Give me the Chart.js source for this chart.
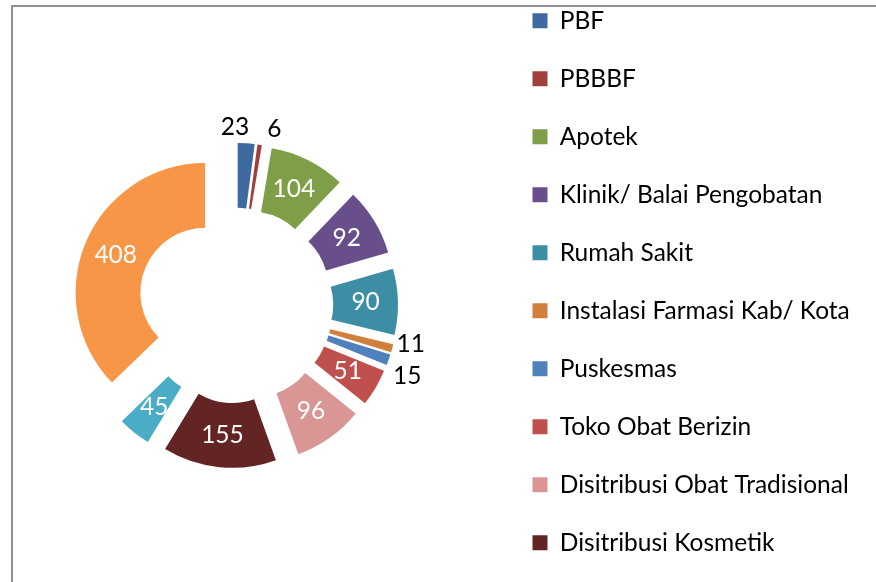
<!DOCTYPE html>
<html>
<head>
<meta charset="utf-8">
<script src="https://cdn.jsdelivr.net/npm/chart.js@4.4.1/dist/chart.umd.min.js"></script>
<style>
  html, body { margin: 0; padding: 0; width: 876px; height: 582px; overflow: hidden; background: #ffffff; }
  #frame { position: absolute; left: 11px; top: 5px; width: 900px; height: 700px;
           border-left: 2px solid #8f8f8f; border-top: 2px solid #8f8f8f; }
  #wrap { position: absolute; left: -28px; top: -25px; width: 904px; height: 661px; }
</style>
</head>
<body>
<div id="frame"></div>
<div id="wrap"><canvas id="c"></canvas></div>
<script>
// ---- data ----
const categories = [
  'PBF',
  'PBBBF',
  'Apotek',
  'Klinik/ Balai Pengobatan',
  'Rumah Sakit',
  'Instalasi Farmasi Kab/ Kota',
  'Puskesmas',
  'Toko Obat Berizin',
  'Disitribusi Obat Tradisional',
  'Disitribusi Kosmetik',
  'Disitribusi Suplemen Kesehatan',
  'Disitribusi Pangan'
];
const values = [23, 6, 104, 92, 90, 11, 15, 51, 96, 155, 45, 408];
const sliceColors = [
  '#3F6A9F', '#A0403D', '#7F9E48', '#684F8B', '#3D8DA5', '#D07F3C',
  '#4F81BD', '#C0504D', '#D99694', '#632523', '#4BACC6', '#F79646'
];

// ---- style ----
const FONT_FAMILY = 'Lato, "Open Sans", sans-serif';
const FONT_SIZE = 24.5;

// Make Chart.js' arc offset a pure translation (no radius growth / angle trimming),
// like an exploded doughnut in a spreadsheet chart.
const uniformExplode = {
  id: 'uniformExplode',
  beforeDatasetDraw(chart, args) {
    args.meta.data.forEach(arc => {
      arc.$circ = arc.circumference;
      if (arc.circumference > 0 && arc.circumference < Math.PI * 2) {
        arc.circumference = Math.PI / 2;
      }
    });
  },
  afterDatasetDraw(chart, args) {
    args.meta.data.forEach(arc => {
      if (arc.$circ !== undefined) arc.circumference = arc.$circ;
    });
  }
};

const valueLabels = {
  id: 'valueLabels',
  afterDatasetsDraw(chart) {
    const meta = chart.getDatasetMeta(0);
    const ds = chart.data.datasets[0];
    const ctx = chart.ctx;
    ctx.save();
    ctx.font = FONT_SIZE + 'px ' + FONT_FAMILY;
    ctx.textAlign = 'center';
    ctx.textBaseline = 'middle';
    const textH = 18;
    const outside = [];
    meta.data.forEach((arc, i) => {
      const mid = (arc.startAngle + arc.endAngle) / 2;
      const dx = Math.cos(mid), dy = Math.sin(mid);
      const shift = (arc.options.offset || 0) / 4;
      const text = String(ds.data[i]);
      const sweep = arc.endAngle - arc.startAngle;
      if (sweep > 0.15) {
        const r = (arc.innerRadius + arc.outerRadius) / 2 + shift;
        ctx.fillStyle = '#ffffff';
        ctx.fillText(text, arc.x + dx * r, arc.y + dy * r);
      } else {
        const w = ctx.measureText(text).width;
        const gap = 2 + 4 * Math.abs(dy);
        const r = arc.outerRadius + shift + gap + Math.abs(dx) * w / 2 + Math.abs(dy) * textH / 2;
        outside.push({ text, cx: arc.x + dx * r, cy: arc.y + dy * r, w, h: textH,
                       horiz: Math.abs(dy) > Math.abs(dx) });
      }
    });
    for (let k = 0; k < outside.length - 1; k++) {
      const a = outside[k], b = outside[k + 1];
      if (a.horiz && b.horiz) {
        const need = (a.w + b.w) / 2 + 18;
        const d = b.cx - a.cx;
        if (Math.abs(d) < need) {
          const m = (a.cx + b.cx) / 2, s = Math.sign(d) || 1;
          a.cx = m - s * need / 2; b.cx = m + s * need / 2;
        }
      } else if (!a.horiz && !b.horiz) {
        const need = (a.h + b.h) / 2 + 14;
        const d = b.cy - a.cy;
        if (Math.abs(d) < need) {
          const m = (a.cy + b.cy) / 2, s = Math.sign(d) || 1;
          a.cy = m - s * need / 2; b.cy = m + s * need / 2;
        }
      }
    }
    ctx.fillStyle = '#000000';
    outside.forEach(o => ctx.fillText(o.text, o.cx, o.cy));
    ctx.restore();
  }
};

function build() {
  new Chart(document.getElementById('c'), {
    type: 'doughnut',
    data: {
      labels: categories,
      datasets: [{
        data: values,
        backgroundColor: sliceColors,
        borderWidth: 0,
        offset: 132,
        radius: 129.5,
        cutout: '50%'
      }]
    },
    options: {
      responsive: true,
      maintainAspectRatio: false,
      animation: false,
      events: [],
      layout: { padding: 0 },
      plugins: {
        tooltip: { enabled: false },
        legend: {
          position: 'right',
          align: 'start',
          maxWidth: 377,
          labels: {
            boxWidth: 15,
            boxHeight: 15,
            padding: 33.5,
            color: '#000000',
            font: { family: FONT_FAMILY, size: FONT_SIZE }
          }
        }
      }
    },
    plugins: [uniformExplode, valueLabels]
  });
}

if (document.fonts && document.fonts.load) {
  document.fonts.load(FONT_SIZE + 'px Lato').then(build, build);
} else {
  build();
}
</script>
</body>
</html>
